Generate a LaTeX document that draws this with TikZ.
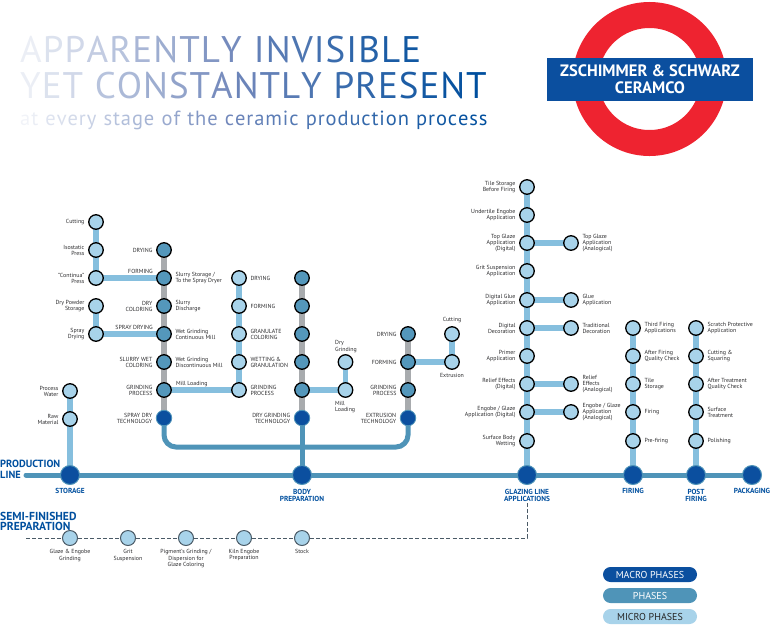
\documentclass[tikz,border=0pt]{standalone}
\usepackage{fontspec}
\setmainfont{PT Sans}
\usetikzlibrary{backgrounds}
\definecolor{dblue}{HTML}{0B4F9F}
\definecolor{tblue}{HTML}{004F9E}
\definecolor{peri}{HTML}{6F86BA}
\definecolor{medb}{HTML}{4F94B8}
\definecolor{phasef}{HTML}{5497BB}
\definecolor{lightf}{HTML}{A8D3EA}
\definecolor{linkc}{HTML}{86BFDE}
\definecolor{grayl}{HTML}{A8ABAE}
\definecolor{logored}{HTML}{EE2330}
\definecolor{txt}{HTML}{2C2C2E}
\definecolor{semic}{HTML}{4A5A66}
\ExplSyntaxOn
\int_new:N \l_gradi_int
\int_new:N \l_gradn_int
\int_new:N \l_gradp_int
\NewDocumentCommand\gradtxt{mmmm}{
  \int_zero:N \l_gradi_int
  \int_set:Nn \l_gradn_int {\str_count:n{#1}}
  \str_map_inline:nn {#1} {
    \int_incr:N \l_gradi_int
    \int_set:Nn \l_gradp_int {#2+(#3-#2)*\l_gradi_int/\l_gradn_int}
    \str_if_eq:nnTF {##1} {_}
      { \hspace*{\fontdimen2\font} }
      {
        \int_compare:nNnTF {\l_gradp_int} < {50}
          { \textcolor{peri!\int_eval:n{2*\l_gradp_int}!white}{##1} }
          { \textcolor{tblue!\int_eval:n{2*\l_gradp_int-100}!peri}{##1} }
      }
    \kern #4pt\relax
  }
}
\ExplSyntaxOff
\tikzset{
  micro/.style={circle,draw=black,fill=lightf,line width=1.3pt,minimum size=14.5pt,inner sep=0pt},
  phase/.style={circle,draw=black,fill=phasef,line width=1.3pt,minimum size=14.5pt,inner sep=0pt},
  tech/.style={circle,draw=medb,fill=dblue,line width=.8pt,minimum size=15.5pt,inner sep=0pt},
  macro/.style={circle,draw=medb,fill=dblue,line width=1pt,minimum size=19pt,inner sep=0pt},
  semi/.style={circle,draw=semic,fill=lightf,line width=1pt,minimum size=15pt,inner sep=0pt},
  small/.style={font=\fontsize{5.9}{6.1}\selectfont,text=txt,inner sep=0pt},
  ll/.style={small,align=right,label distance=3.5pt},
  rl/.style={small,align=left,label distance=3.5pt},
  cl/.style={small,align=center,label distance=3.5pt},
  bold/.style={font=\fontsize{7.3}{6.9}\selectfont\bfseries,text=tblue,align=center,inner sep=0.5pt},
  big/.style={text=tblue,align=left,inner sep=0pt,anchor=north west},
  mlink/.style={line width=5.5pt,linkc},
  glink/.style={line width=5.5pt,grayl},
  mainl/.style={line width=5pt,medb},
  semil/.style={line width=1pt,semic,dash pattern=on 4pt off 2.2pt},
  legend/.style={rounded corners=7.5pt,minimum width=94pt,minimum height=15pt,inner sep=0pt,font=\fontsize{10}{10}\selectfont},
  title/.style={inner sep=0pt,anchor=base west}
}
\begin{document}
\begin{tikzpicture}[x=1pt,y=-1pt]
\useasboundingbox (0,0) rectangle (770,624);
% title
\node[title,font=\fontsize{37}{36}\selectfont] (t1) at (20,62.5) {\gradtxt{APPARENTLY_INVISIBLE}{3}{92}{1.1}};
\node[title,font=\fontsize{37}{36}\selectfont] (t2) at (20,98.5) {\gradtxt{YET_CONSTANTLY_PRESENT}{3}{100}{0.95}};
\node[title,font=\fontsize{20.5}{20}\selectfont] (t3) at (20,125) {\gradtxt{at_every_stage_of_the_ceramic_production_process}{3}{100}{0.9}};
% logo
\draw[logored,line width=26pt] (649.5,79) circle[radius=64];
\node[fill=dblue,text=white,minimum width=206pt,minimum height=43pt,inner sep=0pt,align=center,font=\fontsize{16.5}{17}\selectfont\bfseries] (logo) at (650,79.5) {ZSCHIMMER \& SCHWARZ\\CERAMCO};
% main line nodes
\node[macro] (storage) at (70,475) {};
\node[macro] (body) at (302,475) {};
\node[macro] (glazing) at (527,475) {};
\node[macro] (firing) at (633,475) {};
\node[macro] (post) at (696,475) {};
\node[macro] (pack) at (752,475) {};
\coordinate (pstart) at (26,475);
\node[bold,anchor=north] (lstorage) at (70,488) {STORAGE};
\node[bold,anchor=north] (lbody) at (302,489) {BODY\\PREPARATION};
\node[bold,anchor=north,fill=white] (lglaz) at (527,489) {GLAZING LINE\\APPLICATIONS};
\node[bold,anchor=north] (lfiring) at (633,488) {FIRING};
\node[bold,anchor=north] (lpost) at (696,489) {POST\\FIRING};
\node[bold,anchor=north] (lpack) at (752,488) {PACKAGING};
\node[big,font=\fontsize{10.4}{10.5}\selectfont\bfseries] (lprod) at (0,460) {PRODUCTION\\LINE};
\node[big,font=\fontsize{11.6}{10.5}\selectfont\bfseries] (lsemi) at (0,512) {SEMI-FINISHED\\PREPARATION};
% storage branch
\node[micro,label={[ll]left:Process\\Water}] (pw) at (70,391) {};
\node[micro,label={[ll]left:Raw\\Material}] (raw) at (70,419) {};
% left micro column
\node[micro,label={[ll]left:Cutting}] (a1) at (96,222) {};
\node[micro,label={[ll]left:Isostatic\\Press}] (a2) at (96,250) {};
\node[micro,label={[ll]left:"Continua"\\Press}] (a3) at (96,278) {};
\node[micro,label={[ll]left:Dry Powder\\Storage}] (a4) at (96,306) {};
\node[micro,label={[ll]left:Spray\\Drying}] (a5) at (96,334) {};
% spray-dry column
\node[phase,label={[ll]left:DRYING}] (b1) at (164,250) {};
\node[phase,label={[rl]right:Slurry Storage /\\To the Spray Dryer}] (b2) at (164,278) {};
\node[phase,label={[ll]left:DRY\\COLORING},label={[rl]right:Slurry\\Discharge}] (b3) at (164,306) {};
\node[phase,label={[rl]right:Wet Grinding\\Continuous Mill}] (b4) at (164,334) {};
\node[phase,label={[ll]left:SLURRY WET\\COLORING},label={[rl]right:Wet Grinding\\Discontinuous Mill}] (b5) at (164,362) {};
\node[phase,label={[ll]left:GRINDING\\PROCESS}] (b6) at (164,390) {};
\node[tech,label={[ll]left:SPRAY DRY\\TECHNOLOGY}] (b7) at (164,418) {};
\node[small,anchor=south east] (lform) at (153,274) {FORMING};
\node[small,anchor=south east] (lspray) at (153,330) {SPRAY DRYING};
\node[small,anchor=south west] (lmill) at (176,387) {Mill Loading};
% second micro column
\node[micro,label={[rl]right:DRYING}] (c1) at (239,278) {};
\node[micro,label={[rl]right:FORMING}] (c2) at (239,306) {};
\node[micro,label={[rl]right:GRANULATE\\COLORING}] (c3) at (239,334) {};
\node[micro,label={[rl]right:WETTING \&\\GRANULATION}] (c4) at (239,362) {};
\node[micro,label={[rl]right:GRINDING\\PROCESS}] (c5) at (239,390) {};
% dry grinding column
\node[phase] (d1) at (302,278) {};
\node[phase] (d2) at (302,306) {};
\node[phase] (d3) at (302,334) {};
\node[phase] (d4) at (302,362) {};
\node[phase] (d5) at (302,390) {};
\node[tech,label={[ll]left:DRY GRINDING\\TECHNOLOGY}] (d6) at (302,418) {};
\node[micro] (e1) at (345.5,362) {};
\node[micro] (e2) at (345.5,390) {};
\node[small,align=left,anchor=south west] (le1) at (335,352.5) {Dry\\Grinding};
\node[small,align=left,anchor=north west] (le2) at (335,401) {Mill\\Loading};
% extrusion column
\node[phase,label={[ll]left:DRYING}] (f1) at (408,334) {};
\node[phase,label={[ll]left:FORMING}] (f2) at (408,362) {};
\node[phase,label={[ll]left:GRINDING\\PROCESS}] (f3) at (408,390) {};
\node[tech,label={[ll]left:EXTRUSION\\TECHNOLOGY}] (f4) at (408,418) {};
\node[micro,label={[cl]above:Cutting}] (g1) at (452,334) {};
\node[micro,label={[cl]below:Extrusion}] (g2) at (452,362) {};
\coordinate (bus) at (302,447);
% glazing column
\node[micro,label={[ll]left:Tile Storage\\Before Firing}] (h1) at (527,187) {};
\node[micro,label={[ll]left:Undertile Engobe\\Application}] (h2) at (527,215) {};
\node[micro,label={[ll]left:Top Glaze\\Application\\(Digital)}] (h3) at (527,243) {};
\node[micro,label={[ll]left:Grit Suspension\\Application}] (h4) at (527,271) {};
\node[micro,label={[ll]left:Digital Glue\\Application}] (h5) at (527,300) {};
\node[micro,label={[ll]left:Digital\\Decoration}] (h6) at (527,328) {};
\node[micro,label={[ll]left:Primer\\Application}] (h7) at (527,356) {};
\node[micro,label={[ll]left:Relief Effects\\(Digital)}] (h8) at (527,384) {};
\node[micro,label={[ll]left:Engobe / Glaze\\Application (Digital)}] (h9) at (527,412) {};
\node[micro,label={[ll]left:Surface Body\\Wetting}] (h10) at (527,441) {};
\node[micro,label={[rl]right:Top Glaze\\Application\\(Analogical)}] (i3) at (571,243) {};
\node[micro,label={[rl]right:Glue\\Application}] (i5) at (571,300) {};
\node[micro,label={[rl]right:Traditional\\Decoration}] (i6) at (571,328) {};
\node[micro,label={[rl]right:Relief\\Effects\\(Analogical)}] (i8) at (571,384) {};
\node[micro,label={[rl]right:Engobe / Glaze\\Application\\(Analogical)}] (i9) at (571,412) {};
% firing
\node[micro,label={[rl]right:Third Firing\\Applications}] (j1) at (633,328) {};
\node[micro,label={[rl]right:After Firing\\Quality Check}] (j2) at (633,356) {};
\node[micro,label={[rl]right:Tile\\Storage}] (j3) at (633,384) {};
\node[micro,label={[rl]right:Firing}] (j4) at (633,412) {};
\node[micro,label={[rl]right:Pre-firing}] (j5) at (633,441) {};
% post firing
\node[micro,label={[rl]right:Scratch Protective\\Application}] (k1) at (696,328) {};
\node[micro,label={[rl]right:Cutting \&\\Squaring}] (k2) at (696,356) {};
\node[micro,label={[rl]right:After Treatment\\Quality Check}] (k3) at (696,384) {};
\node[micro,label={[rl]right:Surface\\Treatment}] (k4) at (696,412) {};
\node[micro,label={[rl]right:Polishing}] (k5) at (696,441) {};
% semi-finished
\coordinate (sstart) at (26,538);
\node[semi,label={[cl]below:Glaze \& Engobe\\Grinding}] (s1) at (70,538) {};
\node[semi,label={[cl]below:Grit\\Suspension}] (s2) at (128,538) {};
\node[semi,label={[cl]below:Pigment's Grinding /\\Dispersion for\\Glaze Coloring}] (s3) at (186,538) {};
\node[semi,label={[cl]below:Kiln Engobe\\Preparation}] (s4) at (244,538) {};
\node[semi,label={[cl]below:Stock}] (s5) at (302,538) {};
% legend
\node[legend,fill=dblue,text=white] (m1) at (650,574.5) {MACRO PHASES};
\node[legend,fill=medb,text=white] (m2) at (650,595.5) {PHASES};
\node[legend,fill=lightf,text=black!85] (m3) at (650,616.5) {MICRO PHASES};
% connectors
\begin{scope}[on background layer]
\draw[semil] (sstart) -- (s1) -- (s2) -- (s3) -- (s4) -- (s5) -- (glazing |- s5) -- (lglaz.south);
\draw[mlink] (pw.center) -- (raw.center) -- (storage.center);
\draw[mlink] (a1.center) -- (a2.center) -- (a3.center) -- (b2.center);
\draw[mlink] (a4.center) -- (a5.center) -- (b4.center);
\draw[mlink] (b6.center) -- (c5.center);
\draw[mlink] (c1.center) -- (c2.center) -- (c3.center) -- (c4.center) -- (c5.center);
\draw[glink] (b1.center) -- (b2.center) -- (b3.center) -- (b4.center) -- (b5.center) -- (b6.center) -- (b7.center);
\draw[glink] (d1.center) -- (d2.center) -- (d3.center) -- (d4.center) -- (d5.center) -- (d6.center);
\draw[mlink] (d5.center) -- (e2.center) -- (e1.center);
\draw[glink] (f1.center) -- (f2.center) -- (f3.center) -- (f4.center);
\draw[mlink] (f2.center) -- (g2.center) -- (g1.center);
\draw[mlink] (h1.center) -- (h2.center) -- (h3.center) -- (h4.center) -- (h5.center) -- (h6.center) -- (h7.center) -- (h8.center) -- (h9.center) -- (h10.center) -- (glazing.center);
\draw[mlink] (h3.center) -- (i3.center);
\draw[mlink] (h5.center) -- (i5.center);
\draw[mlink] (h6.center) -- (i6.center);
\draw[mlink] (h8.center) -- (i8.center);
\draw[mlink] (h9.center) -- (i9.center);
\draw[mlink] (j1.center) -- (j2.center) -- (j3.center) -- (j4.center) -- (j5.center) -- (firing.center);
\draw[mlink] (k1.center) -- (k2.center) -- (k3.center) -- (k4.center) -- (k5.center) -- (post.center);
\draw[mainl,rounded corners=12pt] (b7.center) -- (b7 |- bus) -- (f4 |- bus) -- (f4.center);
\draw[mainl] (d6.center) -- (body.center);
\draw[mainl,line cap=round] (pstart) -- (storage.center) -- (body.center) -- (glazing.center) -- (firing.center) -- (post.center) -- (pack.center);
\end{scope}
\end{tikzpicture}
\end{document}
